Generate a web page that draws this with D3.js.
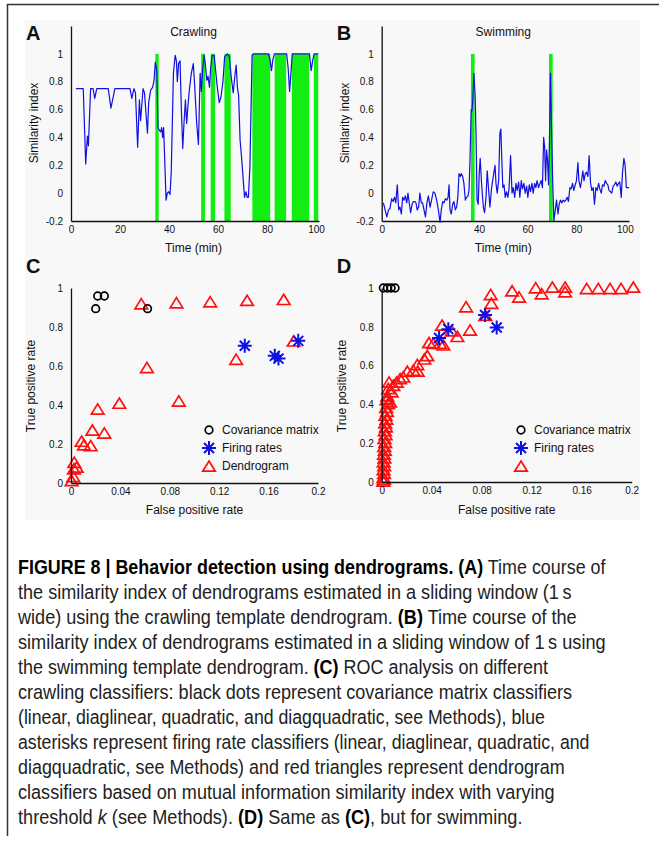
<!DOCTYPE html>
<html>
<head>
<meta charset="utf-8">
<script src="https://cdn.jsdelivr.net/npm/d3@7"></script>
<style>
  body { margin: 0; background: #fff; }
  svg { display: block; font-family: Arial, "Liberation Sans", sans-serif; }
</style>
</head>
<body>
<svg id="fig" width="659" height="843"></svg>
<script>
// Panel A: crawling similarity index over time (min)
const crawlT = [2.0, 5.0, 6.0, 6.7, 7.1, 8.0, 9.0, 9.7, 10.5, 15.2, 16.3, 17.9, 24.1, 24.8, 25.7, 26.3, 27.2, 27.9, 28.4, 29.4,
  30.0, 31.2, 31.7, 32.5, 33.3, 33.9, 34.4, 35.0, 35.5, 36.1, 36.6, 37.0, 37.4, 37.8, 38.8, 39.3, 39.8, 40.4, 40.9, 41.8,
  42.5, 43.0, 43.4, 43.9, 44.5, 45.0, 45.6, 46.1, 46.7, 47.2, 47.7, 48.3, 49.1, 49.9, 50.5, 51.3, 52.0, 52.7, 53.2, 53.7,
  54.3, 54.8, 55.4, 55.9, 56.5, 57.0, 57.6, 58.4, 58.9, 59.7, 60.5, 61.2, 62.0, 62.7, 63.8, 64.6, 65.4, 66.2, 66.8, 67.4,
  67.9, 68.4, 69.0, 69.5, 70.1, 70.8, 71.4, 71.9, 72.4, 73.0, 73.9, 74.4, 80.6, 81.2, 81.8, 82.4, 83.0, 88.0, 88.6, 89.2,
  89.7, 90.3, 97.3, 98.0, 98.6, 99.2, 100.9];
const crawlV = [0.75, 0.75, 0.21, 0.41, 0.34, 0.75, 0.75, 0.68, 0.75, 0.75, 0.61, 0.75, 0.75, 0.68, 0.75, 0.72, 0.33, 0.67, 0.52, 0.75,
  0.72, 0.43, 0.65, 0.74, 0.76, 0.81, 0.94, 0.88, 0.47, 0.45, 0.44, 0.47, 0.40, 0.47, -0.05, 0.0, 0.01, -0.01, 0.15, 0.86,
  0.99, 0.95, 0.80, 0.93, 0.95, 0.62, 0.32, 0.50, 0.67, 0.50, 0.62, 0.74, 0.86, 0.93, 0.76, 0.50, 0.35, 0.86, 0.73, 0.88,
  0.99, 0.93, 0.81, 0.84, 0.76, 0.90, 0.99, 0.99, 0.90, 0.76, 0.65, 0.69, 0.80, 0.98, 1.0, 0.98, 0.83, 0.72, 0.83, 0.92,
  0.76, 0.70, 0.38, 0.28, 0.14, -0.03, 0.01, -0.03, -0.03, 0.19, 0.99, 1.0, 1.0, 0.96, 0.88, 0.96, 1.0, 1.0, 0.90, 0.73,
  0.85, 1.0, 1.0, 0.88, 0.95, 1.0, 1.0];
// detected crawling epochs (start, end) in min
const crawlOn = [[34.4, 35.8], [53.1, 54.7], [57.0, 58.8], [62.6, 65.2], [74.0, 81.3], [83.1, 87.8], [90.1, 97.2], [99.1, 100.9]];

// Panel B: swimming similarity index
const swimT = [0.7, 1.4, 2.1, 2.8, 3.4, 4.1, 4.7, 5.3, 5.8, 6.4, 7.0, 7.5, 8.1, 8.6, 9.2, 9.7, 10.3, 10.8, 11.4, 11.9,
  12.5, 13.0, 13.6, 14.1, 14.6, 15.2, 15.7, 16.3, 16.8, 17.4, 18.0, 18.6, 19.2, 19.9, 20.5, 21.2, 21.9, 22.6, 23.3, 24.0,
  24.5, 25.1, 25.6, 26.2, 26.8, 27.3, 27.7, 28.1, 28.6, 29.2, 29.7, 30.3, 30.8, 31.3, 31.8, 32.3, 32.7, 33.3, 33.8, 34.4,
  34.9, 35.5, 35.9, 36.3, 36.8, 37.1, 37.5, 37.9, 38.4, 38.8, 39.2, 39.7, 40.1, 40.5, 41.1, 41.8, 42.3, 42.9, 43.4, 43.9,
  44.5, 45.2, 45.9, 46.6, 47.0, 47.5, 48.1, 48.6, 49.0, 49.4, 49.8, 50.3, 50.8, 51.3, 51.9, 52.4, 53.0, 53.6, 54.1, 54.7,
  55.2, 55.7, 56.3, 56.8, 57.4, 57.9, 58.5, 59.0, 59.6, 60.1, 60.7, 61.2, 61.8, 62.3, 62.9, 63.4, 63.9, 64.5, 65.1, 65.6,
  66.1, 66.6, 67.0, 67.4, 67.8, 68.2, 68.6, 69.0, 69.4, 69.8, 70.3, 70.8, 71.4, 71.9, 72.5, 73.0, 73.5, 74.1, 74.6, 75.2,
  75.7, 76.3, 76.8, 77.4, 77.9, 78.5, 79.0, 79.6, 80.1, 80.7, 81.1, 81.7, 82.2, 82.7, 83.2, 83.7, 84.2, 84.8, 85.3, 85.9,
  86.4, 87.0, 87.5, 88.1, 88.6, 89.2, 89.7, 90.3, 90.8, 91.4, 91.9, 92.5, 93.0, 93.5, 94.1, 94.6, 95.2, 95.7, 96.3, 96.8,
  97.4, 97.9, 98.5, 99.0, 99.6, 100.1, 100.6, 101.7];
const swimV = [-0.07, -0.12, -0.17, -0.12, -0.11, -0.04, -0.06, -0.03, -0.07, 0.06, -0.12, -0.10, -0.15, -0.03, -0.05, -0.02, -0.07, 0.0, -0.08, -0.14,
  -0.08, -0.06, -0.06, -0.07, -0.12, -0.10, 0.0, -0.07, -0.07, -0.12, -0.17, -0.07, -0.02, -0.10, -0.05, 0.01, 0.0, -0.05, -0.12, -0.21,
  -0.12, -0.06, -0.07, -0.04, -0.05, -0.03, 0.06, -0.12, -0.15, -0.08, -0.06, -0.12, -0.10, -0.03, 0.14, 0.12, 0.14, 0.12, 0.07, -0.05,
  -0.03, -0.02, 0.02, 0.23, 0.60, 0.59, 0.68, 0.86, 0.71, 0.42, -0.05, -0.08, 0.14, 0.25, 0.06, -0.10, -0.14, -0.03, 0.16, 0.04,
  -0.10, 0.04, 0.12, 0.20, 0.07, 0.0, 0.09, 0.43, 0.46, 0.24, 0.04, 0.06, -0.03, 0.01, -0.03, 0.04, 0.27, 0.0, 0.04, -0.03,
  0.07, 0.02, 0.08, -0.03, 0.09, 0.03, 0.07, 0.0, 0.05, -0.03, 0.06, 0.01, 0.07, 0.0, 0.07, 0.04, 0.09, 0.04, 0.07, 0.09,
  0.04, 0.40, 0.33, 0.09, 0.31, 0.24, 0.06, 0.38, 0.86, 0.50, 0.10, -0.20, -0.12, -0.05, -0.15, -0.08, -0.05, -0.07, -0.05, -0.06,
  -0.05, -0.03, -0.06, 0.04, 0.03, 0.07, 0.02, 0.06, 0.09, 0.22, 0.09, 0.04, 0.09, 0.16, 0.09, 0.14, 0.15, 0.12, 0.27, 0.07,
  0.02, 0.04, -0.08, 0.04, 0.02, 0.07, 0.03, 0.0, 0.06, 0.05, 0.09, 0.07, 0.06, 0.02, 0.01, 0.0, 0.05, 0.06, 0.08, 0.05,
  0.07, 0.08, -0.03, 0.14, 0.25, 0.20, 0.04, 0.04];
const swimOn = [[36.7, 38.2], [68.8, 70.3]];

// Panel C: ROC, crawling classifiers  [false positive rate, true positive rate]
const covC = [[0.020, 0.894], [0.0216, 0.959], [0.027, 0.959], [0.062, 0.894]];
const fireC = [[0.1407, 0.704], [0.165, 0.652], [0.168, 0.638], [0.184, 0.729]];
const dendC = [[0.0569, 0.915], [0.0854, 0.920], [0.1127, 0.925], [0.1426, 0.932], [0.1722, 0.937], [0.1803, 0.724],
  [0.1337, 0.630], [0.0615, 0.588], [0.0873, 0.416], [0.0391, 0.405], [0.0216, 0.375], [0.027, 0.252], [0.0173, 0.267],
  [0.0086, 0.210], [0.0105, 0.191], [0.0159, 0.187], [0.0027, 0.102], [0.0046, 0.077], [0.0024, 0.068], [0.0019, 0.029],
  [0.0005, 0.008]];

// Panel D: ROC, swimming classifiers
const covD = [[0.0013, 1], [0.0045, 1], [0.0075, 1], [0.0107, 1]];
const fireD = [[0.0459, 0.742], [0.0533, 0.788], [0.0827, 0.861], [0.092, 0.796]];
const dendD = [[0.2013, 1.0], [0.1915, 0.993], [0.1827, 0.993], [0.1733, 0.993], [0.164, 0.993], [0.1467, 1.0], [0.1467, 0.976],
  [0.1365, 1.0], [0.128, 0.966], [0.1232, 0.997], [0.1099, 0.949], [0.1043, 0.981], [0.0877, 0.917], [0.0872, 0.962],
  [0.0829, 0.855], [0.0707, 0.779], [0.0675, 0.899], [0.0605, 0.746], [0.056, 0.775], [0.0483, 0.804], [0.0493, 0.702],
  [0.0467, 0.71], [0.0413, 0.71], [0.0379, 0.714], [0.0365, 0.647], [0.0341, 0.630], [0.0285, 0.601], [0.0288, 0.567],
  [0.0253, 0.571], [0.0205, 0.566], [0.0173, 0.537], [0.0147, 0.528], [0.012, 0.511], [0.0093, 0.494], [0.0059, 0.511],
  [0.0053, 0.477], [0.008, 0.46], [0.0067, 0.409], [0.0045, 0.426], [0.0045, 0.44], [0.0040, 0.42], [0.0050, 0.40],
  [0.0035, 0.38], [0.0042, 0.36], [0.0030, 0.34], [0.0038, 0.32], [0.0028, 0.30], [0.0034, 0.28], [0.0025, 0.26],
  [0.0031, 0.24], [0.0022, 0.22], [0.0028, 0.20], [0.0020, 0.18], [0.0025, 0.16], [0.0018, 0.14], [0.0022, 0.12],
  [0.0016, 0.10], [0.0020, 0.08], [0.0015, 0.06], [0.0019, 0.04], [0.0014, 0.02], [0.0018, 0.01], [0.0013, 0.0]];

const simTicks = [-0.2, 0, 0.2, 0.4, 0.6, 0.8, 1];
const timeTicks = [0, 20, 40, 60, 80, 100];
const rateTicksX = [0, 0.04, 0.08, 0.12, 0.16, 0.2];
const rateTicksY = [0, 0.2, 0.4, 0.6, 0.8, 1];

const captionLines = [
  [["FIGURE 8 | Behavior detection using dendrograms. (A)", "b"], [" Time course of", ""]],
  [["the similarity index of dendrograms estimated in a sliding window (1\u2009s", ""]],
  [["wide) using the crawling template dendrogram. ", ""], ["(B)", "b"], [" Time course of the", ""]],
  [["similarity index of dendrograms estimated in a sliding window of 1\u2009s using", ""]],
  [["the swimming template dendrogram. ", ""], ["(C)", "b"], [" ROC analysis on different", ""]],
  [["crawling classifiers: black dots represent covariance matrix classifiers", ""]],
  [["(linear, diaglinear, quadratic, and diagquadratic, see Methods), blue", ""]],
  [["asterisks represent firing rate classifiers (linear, diaglinear, quadratic, and", ""]],
  [["diagquadratic, see Methods) and red triangles represent dendrogram", ""]],
  [["classifiers based on mutual information similarity index with varying", ""]],
  [["threshold ", ""], ["k", "i"], [" (see Methods). ", ""], ["(D)", "b"], [" Same as ", ""], ["(C)", "b"], [", but for swimming.", ""]]
];
const captionEnds = [606, 572, 577, 606, 548, 572, 545, 590, 565, 555, 523];

const svg = d3.select("#fig");
const green = "#12ee12", blue = "#1010e0", red = "#ff1010";

// frame + panel background
svg.append("rect").attr("x", 25).attr("y", 20).attr("width", 615).attr("height", 500).attr("fill", "#f8f8f8");
svg.append("line").attr("x1", 7).attr("x2", 659).attr("y1", 4.5).attr("y2", 4.5).attr("stroke", "#333").attr("stroke-width", 1.5);
svg.append("line").attr("x1", 7.5).attr("x2", 7.5).attr("y1", 4).attr("y2", 836).attr("stroke", "#333").attr("stroke-width", 1.5);

const fmt = d => String(+d.toFixed(2));

function drawAxes(x, y, xt, yt) {
  svg.append("g").attr("transform", `translate(0,${y.range()[0]})`)
    .call(d3.axisBottom(x).tickValues(xt).tickSize(0).tickPadding(5).tickFormat(fmt))
    .call(g => g.selectAll("text").attr("font-size", 10).attr("fill", "#111"))
    .call(g => g.select(".domain").attr("stroke", "#111").attr("stroke-width", 1.3));
  svg.append("g").attr("transform", `translate(${x.range()[0]},0)`)
    .call(d3.axisLeft(y).tickValues(yt).tickSize(0).tickPadding(8).tickFormat(fmt))
    .call(g => g.selectAll("text").attr("font-size", 10).attr("fill", "#111"))
    .call(g => g.select(".domain").attr("stroke", "#111").attr("stroke-width", 1.3));
}

function label(txt, x, y, opts = {}) {
  const t = svg.append("text").attr("x", x).attr("y", y).text(txt)
    .attr("font-size", opts.size || 12).attr("fill", "#111")
    .attr("text-anchor", opts.anchor || "middle");
  if (opts.bold) t.attr("font-weight", "bold");
  if (opts.rotate) t.attr("transform", `rotate(-90,${x},${y})`);
  return t;
}

function timePanel(T, V, on, x0, x1, xmax, title, letter) {
  const x = d3.scaleLinear().domain([0, xmax]).range([x0, x1]);
  const y = d3.scaleLinear().domain([-0.2, 1.2]).range([221, 26]);
  svg.append("g").selectAll("rect").data(on).join("rect")
    .attr("x", d => x(d[0])).attr("width", d => x(d[1]) - x(d[0]))
    .attr("y", y(1)).attr("height", y(-0.2) - y(1)).attr("fill", green);
  const line = d3.line().x(i => x(T[i])).y(i => y(V[i]));
  svg.append("path").attr("d", line(d3.range(T.length)))
    .attr("fill", "none").attr("stroke", blue).attr("stroke-width", 1.2).attr("stroke-linejoin", "round");
  drawAxes(x, y, timeTicks, simTicks);
  label(title, (x0 + x(100)) / 2, 36);
  label("Time (min)", (x0 + x(100)) / 2, 252);
  label("Similarity index", x0 - 33, 123, { rotate: true });
  label(letter, x0 - 45, 40, { size: 20, bold: true, anchor: "start" }).attr("font-weight", 900);
}

timePanel(crawlT, crawlV, crawlOn, 71, 319, 101.2, "Crawling", "A");
timePanel(swimT, swimV, swimOn, 381.7, 629, 101.7, "Swimming", "B");

// marker helpers
const triPath = "M0,-6L6.3,4.2L-6.3,4.2Z";
const starPath = "M-7,0L7,0M0,-7L0,7M-5,-5L5,5M-5,5L5,-5";

function markers(x, y, data, kind) {
  const g = svg.append("g");
  data.forEach(d => {
    const px = x(d[0]), py = y(d[1]);
    if (kind === "circle") {
      g.append("circle").attr("cx", px).attr("cy", py).attr("r", 3.8)
        .attr("fill", "none").attr("stroke", "#000").attr("stroke-width", 1.7);
    } else if (kind === "star") {
      g.append("path").attr("d", starPath).attr("transform", `translate(${px},${py})`)
        .attr("fill", "none").attr("stroke", blue).attr("stroke-width", 2);
    } else {
      g.append("path").attr("d", triPath).attr("transform", `translate(${px},${py})`)
        .attr("fill", "none").attr("stroke", red).attr("stroke-width", 1.7).attr("stroke-linejoin", "miter");
    }
  });
}

function rocPanel(cov, fire, dend, x0, x1, y0, letter, legendX, names) {
  const x = d3.scaleLinear().domain([0, 0.2]).range([x0, x1]);
  const y = d3.scaleLinear().domain([0, 1]).range([y0, 288]);
  markers(x, y, dend, "tri");
  markers(x, y, fire, "star");
  markers(x, y, cov, "circle");
  drawAxes(x, y, rateTicksX, rateTicksY);
  label("False positive rate", (x0 + x1) / 2, 514);
  label("True positive rate", x0 - 36, 386, { rotate: true });
  label(letter, x0 - 45, 273, { size: 20, bold: true, anchor: "start" }).attr("font-weight", 900);
  // legend
  const lx = d3.scaleLinear().domain([0, 1]).range([legendX, legendX + 1]);
  const ly = d3.scaleLinear().domain([0, 1]).range([0, 1]);
  markers(lx, ly, [[0, 430]], "circle");
  markers(lx, ly, [[0, 448]], "star");
  markers(lx, ly, [[0, 467]], "tri");
  names.forEach((n, i) => {
    if (n) label(n, legendX + 13, 434 + i * 18, { anchor: "start" });
  });
}

rocPanel(covC, fireC, dendC, 71, 318, 483, "C", 209, ["Covariance matrix", "Firing rates", "Dendrogram"]);
rocPanel(covD, fireD, dendD, 381.7, 631.7, 482, "D", 521, ["Covariance matrix", "Firing rates", ""]);

// caption: Arial squeezed horizontally to mimic the condensed journal face
const cap = svg.append("g").attr("font-family", "Arial, 'Liberation Sans', sans-serif")
  .attr("font-size", 19.5).attr("fill", "#222");
captionLines.forEach((segs, i) => {
  const t = cap.append("text").attr("x", 0).attr("y", 0);
  segs.forEach(s => {
    const ts = t.append("tspan").text(s[0]);
    if (s[1] === "b") ts.attr("font-weight", "bold").attr("fill", "#000");
    if (s[1] === "i") ts.attr("font-style", "italic");
  });
  const w = t.node().getComputedTextLength();
  const k = (captionEnds[i] - 18) / w;
  t.attr("transform", `translate(18,${574 + i * 25}) scale(${k},1)`);
});
</script>
</body>
</html>
